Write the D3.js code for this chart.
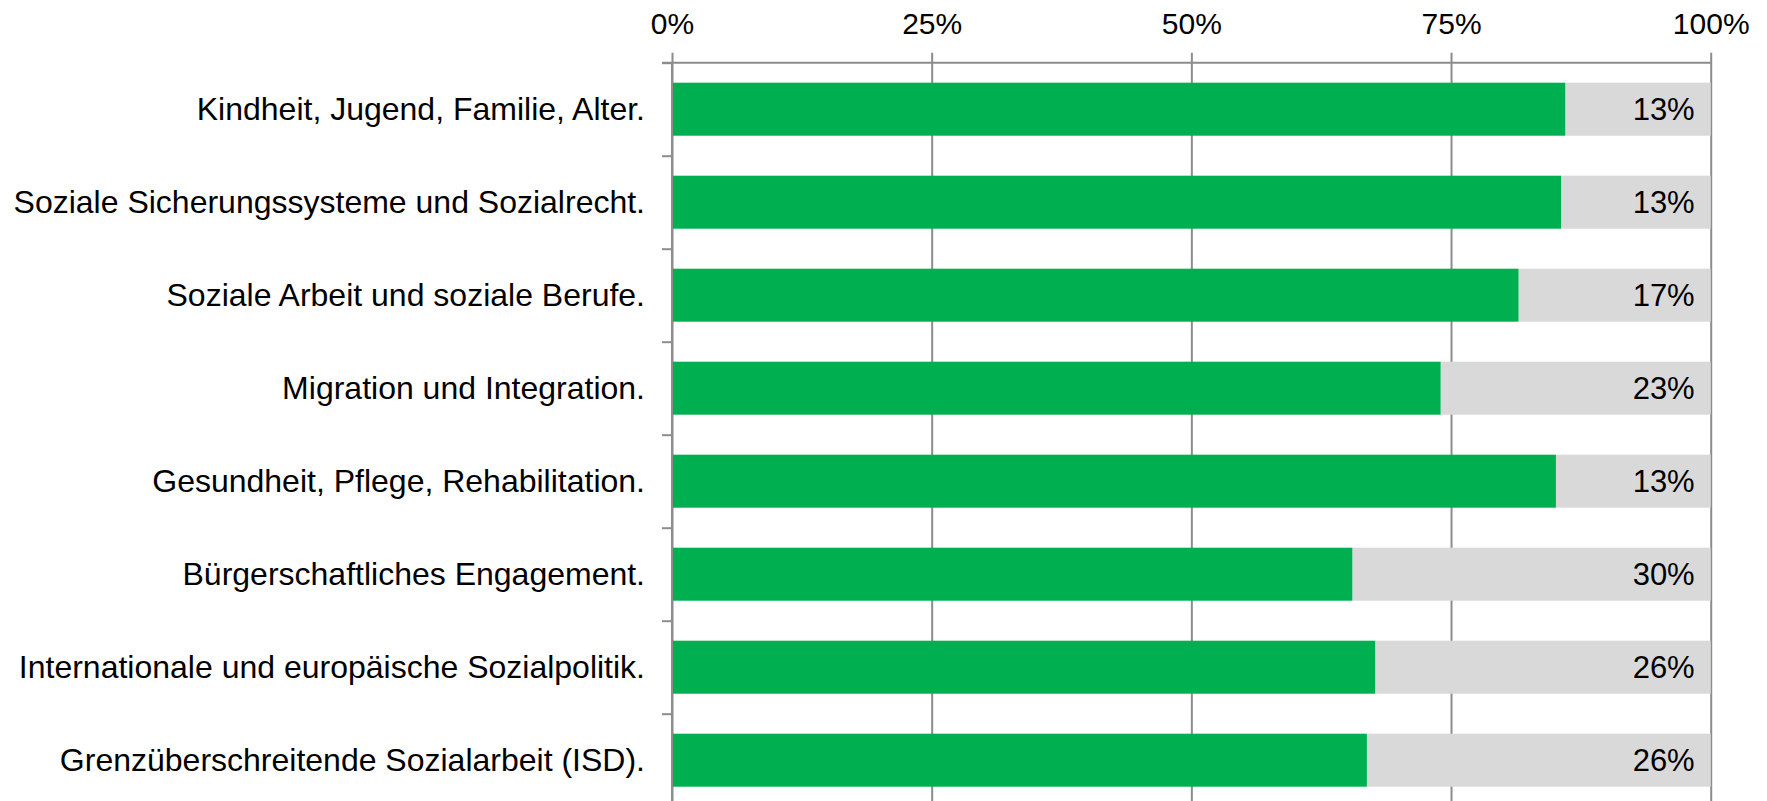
<!DOCTYPE html>
<html>
<head>
<meta charset="utf-8">
<script src="https://cdn.jsdelivr.net/npm/d3@7/dist/d3.min.js"></script>
<style>
  html, body { margin: 0; padding: 0; background: #ffffff; }
  svg { display: block; }
  text { font-family: "Liberation Sans", Arial, sans-serif; fill: #000000; }
</style>
</head>
<body>
<svg id="chart" width="1767" height="801"></svg>
<script>
// ---- data ----
const categories = [
  "Kindheit, Jugend, Familie, Alter.",
  "Soziale Sicherungssysteme und Sozialrecht.",
  "Soziale Arbeit und soziale Berufe.",
  "Migration und Integration.",
  "Gesundheit, Pflege, Rehabilitation.",
  "Bürgerschaftliches Engagement.",
  "Internationale und europäische Sozialpolitik.",
  "Grenzüberschreitende Sozialarbeit (ISD)."
];
const greenShare = [0.860, 0.856, 0.815, 0.740, 0.851, 0.655, 0.677, 0.669];
const greyLabels = [13, 13, 17, 23, 13, 30, 26, 26];
const xTicks = [0, 0.25, 0.5, 0.75, 1];

// ---- layout ----
const margin = { top: 62.7, left: 672 };
const W = 1038.7;
const H = 744;

const svg = d3.select("#chart");
const g = svg.append("g").attr("transform", `translate(${margin.left},${margin.top})`);

const x = d3.scaleLinear().domain([0, 1]).range([0, W]);
const y = d3.scaleBand().domain(categories).range([0, H]).paddingInner(0.43).paddingOuter(0.215);
const yb = d3.scaleLinear().domain([0, categories.length]).range([0, H]);

const gridColor = "#8c8c8c";

// vertical gridlines + top tick labels
const xAxis = d3.axisTop(x)
  .tickValues(xTicks)
  .tickFormat(d3.format(".0%"))
  .tickSizeInner(-H)
  .tickSizeOuter(0);
const xg = g.append("g").attr("class", "x-axis").call(xAxis);
xg.select(".domain").remove();
xg.selectAll(".tick line")
  .attr("y1", -10).attr("y2", H)
  .attr("stroke", gridColor).attr("stroke-width", 2);
xg.selectAll(".tick text")
  .attr("y", -29).attr("dy", 0)
  .attr("font-size", 30)
  .attr("font-family", "'Liberation Sans', Arial, sans-serif")
  .attr("fill", "#000");

// bars
const rows = categories.map((c, i) => ({ c, v: greenShare[i], lab: greyLabels[i] }));
const bars = g.append("g").attr("class", "bars");
bars.selectAll("rect.grey").data(rows).join("rect")
  .attr("class", "grey")
  .attr("x", d => x(d.v))
  .attr("y", d => y(d.c))
  .attr("width", d => x(1) - x(d.v))
  .attr("height", y.bandwidth())
  .attr("fill", "#d9d9d9");
bars.selectAll("rect.green").data(rows).join("rect")
  .attr("class", "green")
  .attr("x", x(0))
  .attr("y", d => y(d.c))
  .attr("width", d => x(d.v) - x(0))
  .attr("height", y.bandwidth())
  .attr("fill", "#00b050");

// data labels
bars.selectAll("text.lab").data(rows).join("text")
  .attr("class", "lab")
  .attr("x", x(1) - 16)
  .attr("y", d => y(d.c) + y.bandwidth() / 2)
  .attr("dy", "0.35em")
  .attr("text-anchor", "end")
  .attr("font-size", 31)
  .text(d => d.lab + "%");

// top horizontal axis line (extends left across tick)
g.append("line")
  .attr("x1", -10).attr("x2", x(1))
  .attr("y1", 0).attr("y2", 0)
  .attr("stroke", gridColor).attr("stroke-width", 2);

// left axis: line + boundary ticks
const yAxisBounds = d3.axisLeft(yb)
  .tickValues(d3.range(0, categories.length + 1))
  .tickSize(10)
  .tickFormat("");
const ybg = g.append("g").attr("class", "y-bounds").call(yAxisBounds);
ybg.select(".domain").attr("stroke", gridColor).attr("stroke-width", 2).attr("d", `M0,0V${H}`);
ybg.selectAll(".tick line").attr("stroke", gridColor).attr("stroke-width", 2);

// category labels
const yAxis = d3.axisLeft(y).tickSize(0).tickPadding(27);
const yg = g.append("g").attr("class", "y-axis").call(yAxis);
yg.select(".domain").remove();
yg.selectAll(".tick text")
  .attr("font-size", 32)
  .attr("font-family", "'Liberation Sans', Arial, sans-serif")
  .attr("fill", "#000")
  .attr("dy", "0.34em");
</script>
</body>
</html>
